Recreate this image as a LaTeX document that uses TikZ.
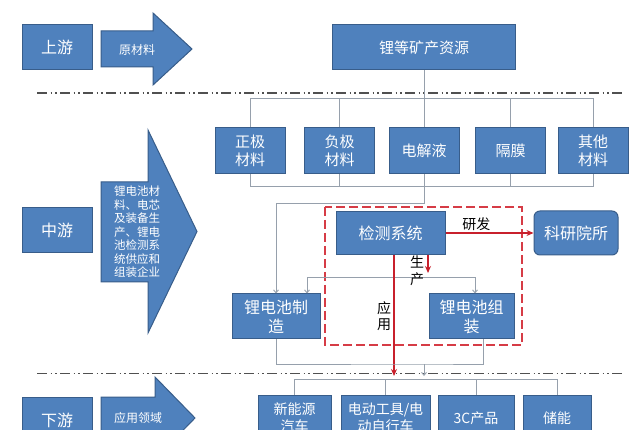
\documentclass[tikz,border=0pt]{standalone}
\usepackage{fontspec}
\setmainfont{Noto Sans CJK SC}
\usetikzlibrary{arrows.meta}
\definecolor{boxblue}{RGB}{79,129,189}
\definecolor{boxedge}{RGB}{56,93,138}
\definecolor{linkgray}{RGB}{150,160,172}
\definecolor{flowred}{RGB}{200,32,44}
\definecolor{framered}{RGB}{214,60,70}
\definecolor{sepgray}{RGB}{80,80,80}

\begin{document}
\begin{tikzpicture}[x=1pt, y=-1pt]
    \tikzstyle{every node}=[inner sep=1pt, text=white, font=\fontsize{15}{18}\selectfont]
    \tikzstyle{blockbox}=[draw=boxedge, fill=boxblue, line width=1pt, align=center]
    \tikzstyle{stagebox}=[blockbox, minimum width=70pt, minimum height=45pt, font=\fontsize{16}{19}\selectfont]
    \tikzstyle{matbox}=[blockbox, minimum width=70pt, minimum height=46pt]
    \tikzstyle{chainbox}=[blockbox, minimum height=45pt, font=\fontsize{16}{19}\selectfont]
    \tikzstyle{usebox}=[blockbox, minimum height=46pt, font=\fontsize{14}{17}\selectfont]
    \tikzstyle{bigarrow}=[draw=boxedge, fill=boxblue, line width=1pt]
    \tikzstyle{link}=[draw=linkgray, line width=0.9pt]
    \tikzstyle{linkarrow}=[link, -{Straight Barb[length=3pt, width=5pt]}]
    \tikzstyle{flow}=[draw=flowred, line width=1.5pt, -{Stealth[length=7pt, width=6pt]}]
    \tikzstyle{flowtext}=[text=black, font=\fontsize{14}{17}\selectfont, align=center]
    \tikzstyle{sepline}=[draw=sepgray, line width=1.4pt, dash pattern=on 10pt off 3.5pt on 1.5pt off 3pt on 1.5pt off 3.5pt]
    \clip (0,0) rectangle (640,430);
    \fill[white] (0,0) rectangle (640,430);
    \draw[sepline] (37,93) -- (622,93);
    \draw[sepline] (37,373.5) -- (622,373.5);
    \node[stagebox] (up) at (57,47.5) {上游};
    \node[stagebox] (mid) at (57,230.5) {中游};
    \node[stagebox] (down) at (57,420) {下游};
    \draw[bigarrow] (101,31) -- (153,31) -- (153,13) -- (192,49) -- (153,85) -- (153,67) -- (101,67) -- cycle;
    \node[font=\fontsize{12}{14}\selectfont] (rawtext) at (137,50) {原材料};
    \draw[bigarrow] (101,182) -- (148,182) -- (148,130) -- (197,231.5) -- (148,333) -- (148,282) -- (101,282) -- cycle;
    \node[font=\fontsize{11.5}{13.5}\selectfont, align=left] (midtext) at (137,232) {锂电池材\\料、电芯\\及装备生\\产、锂电\\池检测系\\统供应和\\组装企业};
    \draw[bigarrow] (101,397) -- (155,397) -- (155,377) -- (195,418) -- (155,459) -- (155,439) -- (101,439) -- cycle;
    \node[font=\fontsize{12}{14}\selectfont] (usetext) at (138,418) {应用领域};
    \node[blockbox, minimum width=183pt, minimum height=45pt] (res) at (424,47.5) {锂等矿产资源};
    \node[matbox] (pos) at (250,151) {正极\\材料};
    \node[matbox] (neg) at (339.5,151) {负极\\材料};
    \node[matbox] (ele) at (424,151) {电解液};
    \node[matbox] (sep) at (510.5,151) {隔膜};
    \node[matbox] (oth) at (593,151) {其他\\材料};
    \coordinate (busT) at (424,98);
    \coordinate (busM) at (424,186);
    \draw[link] (res.south) -- (ele.north);
    \foreach \m in {pos,neg,sep,oth} {\draw[link] (\m.north) |- (busT); \draw[link] (\m.south) |- (busM);}
    \draw[framered, line width=1.6pt, dash pattern=on 9pt off 4pt] (325,207) rectangle (522,345);
    \node[chainbox, minimum width=109pt, minimum height=43pt] (det) at (390.5,233) {检测系统};
    \node[chainbox, rounded corners=6pt, minimum width=84pt, minimum height=44pt] (lab) at (576,233) {科研院所};
    \node[chainbox, minimum width=88pt] (make) at (276,316.5) {锂电池制\\造};
    \node[chainbox, minimum width=85pt] (asm) at (471.5,316.5) {锂电池组\\装};
    \draw[linkarrow] (ele.south) -- ++(0,29) -| (make.north);
    \coordinate (prod) at (428,277);
    \draw[flow] (det.south -| prod) -- ++(0,18);
    \draw[linkarrow] (prod) -| ([xshift=31pt]make.north);
    \draw[linkarrow] (prod) -| ([xshift=3.5pt]asm.north);
    \node[flowtext] (prodtext) at (417,271) {生\\产};
    \draw[flow] (det.east) -- (lab.west) node[flowtext, pos=0.35, above=1pt] (rdtext) {研发};
    \coordinate (app) at (394,376);
    \draw[flow] (det.south -| app) -- (app);
    \node[flowtext, font=\fontsize{14}{16}\selectfont] (apptext) at (384,316) {应\\用};
    \coordinate (joinB) at (424,364);
    \coordinate (busD) at (424,379);
    \draw[link] (make.south) |- (joinB) -| ([xshift=11.5pt]asm.south);
    \draw[linkarrow] (joinB) -- ++(0,12);
    \node[usebox, minimum width=73pt] (nev) at (294.5,418) {新能源\\汽车};
    \node[usebox, minimum width=89pt] (tool) at (385.5,418) {电动工具/电\\动自行车};
    \node[usebox, minimum width=76pt] (cc) at (476,418) {3C产品};
    \node[usebox, minimum width=68pt] (ess) at (557,418) {储能};
    \foreach \b in {nev,tool,cc,ess} \draw[link] (\b.north) |- (busD);
\end{tikzpicture}
\end{document}
